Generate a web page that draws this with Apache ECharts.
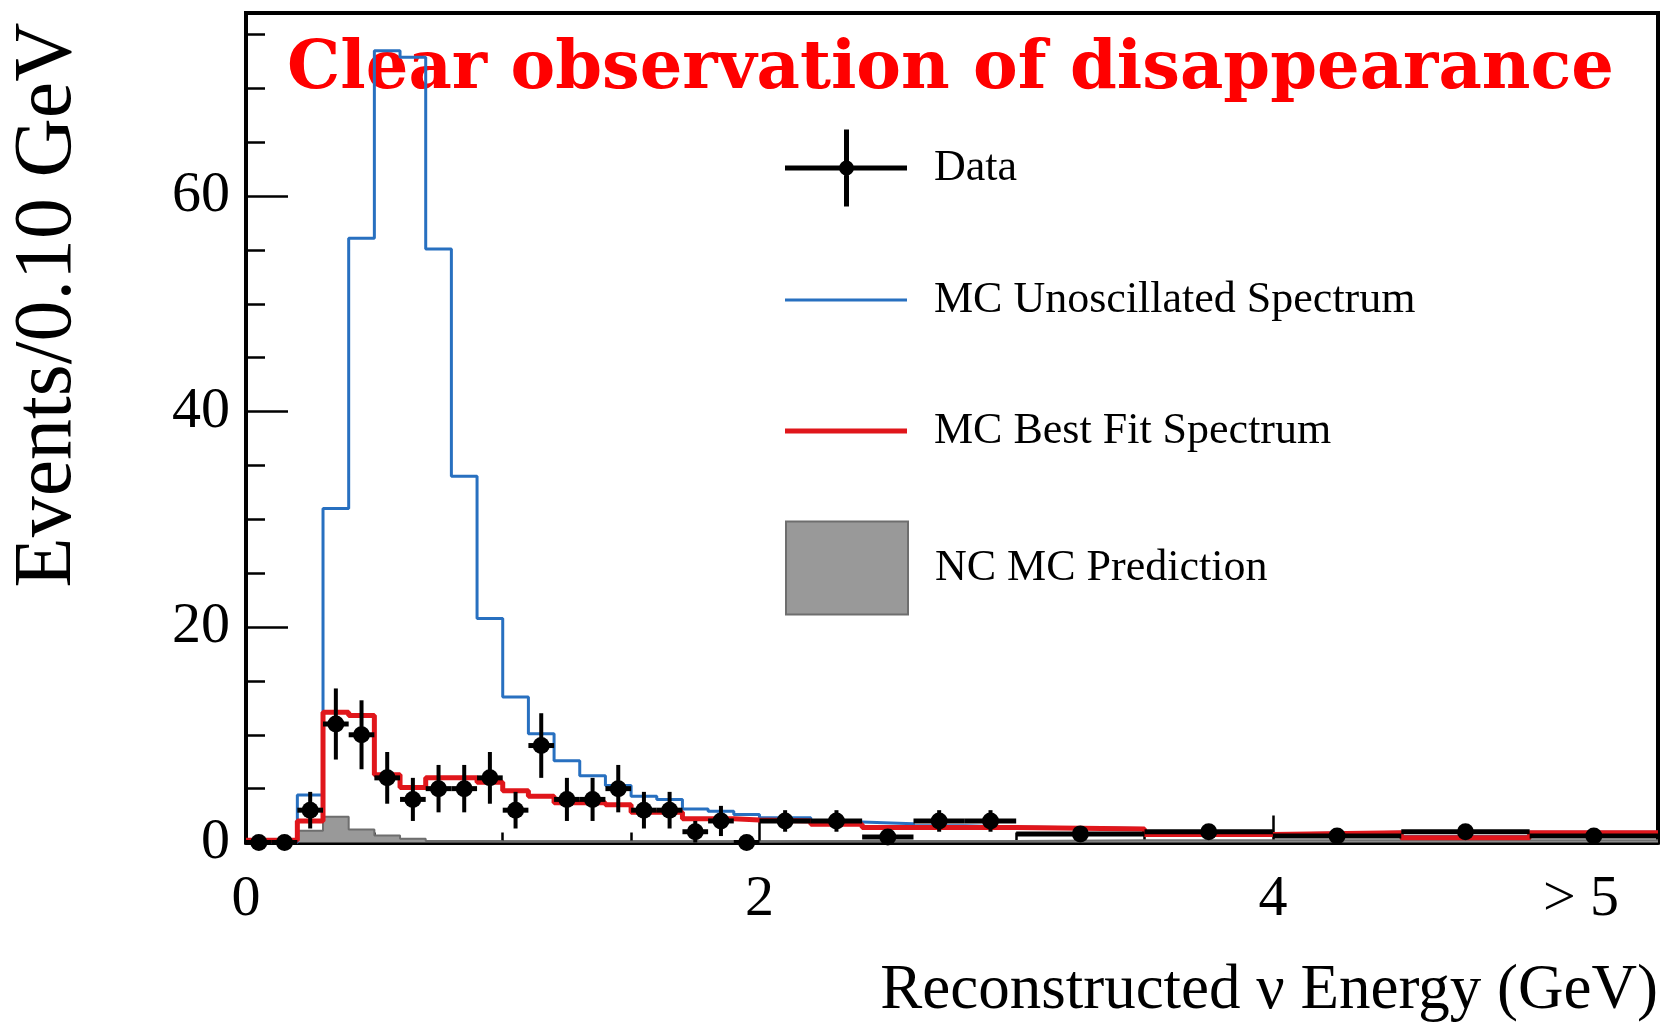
<!DOCTYPE html>
<html>
<head>
<meta charset="utf-8">
<script src="https://cdn.jsdelivr.net/npm/echarts@6/dist/echarts.min.js"></script>
<style>
  html, body { margin: 0; padding: 0; background: #fff; }
  #chart { width: 1664px; height: 1027px; }
</style>
</head>
<body>
<div id="chart"></div>
<script>
// bin edges (GeV) - 0.1 wide up to 2, then 0.2, then 0.5
const binEdges = [0, 0.1, 0.2, 0.3, 0.4, 0.5, 0.6, 0.7, 0.8, 0.9, 1.0, 1.1, 1.2, 1.3, 1.4, 1.5, 1.6, 1.7, 1.8, 1.9, 2.0,
                  2.2, 2.4, 2.6, 2.8, 3.0, 3.5, 4.0, 4.5, 5.0, 5.5];

// MC unoscillated (blue)
const unoscVals = [0, 0, 4.4, 31.0, 56.1, 73.5, 72.9, 55.1, 34.0, 20.8, 13.5, 10.1, 7.6, 6.2, 5.3, 4.3, 4.0, 3.1, 2.9, 2.6,
                   2.3, 1.9, 1.75, 1.55, 1.45, 1.3, 0.8, 0.95, 0.55, 0.95];
// MC best fit (red)
const bestFitVals = [0.2, 0.2, 2.0, 12.1, 11.8, 6.3, 5.1, 6.0, 6.0, 5.6, 4.8, 4.3, 3.7, 3.7, 3.5, 2.8, 2.8, 2.2, 2.2, 2.1,
                     2.0, 1.7, 1.4, 1.4, 1.4, 1.25, 0.75, 0.9, 0.45, 0.9];
// NC MC prediction (grey)
const ncVals = [0, 0, 1.1, 2.4, 1.2, 0.65, 0.35, 0.15, 0.15, 0.12, 0.1, 0.1, 0.1, 0.1, 0.1, 0.1, 0.1, 0.1, 0.1, 0.1,
                0.15, 0.15, 0.15, 0.15, 0.15, 0.2, 0.2, 0.2, 0.2, 0.2];

// data points
const dataCenters = [0.05, 0.15, 0.25, 0.35, 0.45, 0.55, 0.65, 0.75, 0.85, 0.95, 1.05, 1.15, 1.25, 1.35, 1.45,
                     1.55, 1.65, 1.75, 1.85, 1.95, 2.1, 2.3, 2.5, 2.7, 2.9, 3.25, 3.75, 4.25, 4.75, 5.25];
const dataVals = [0, 0, 3, 11, 10, 6, 4, 5, 5, 6, 3, 9, 4, 4, 5, 3, 3, 1, 2, 0,
                  2.0, 2.0, 0.5, 2.0, 2.0, 0.8, 1.0, 0.6, 1.0, 0.6];
const dataErr = [0, 0, 1.7, 3.3, 3.2, 2.4, 2.0, 2.2, 2.2, 2.4, 1.7, 3.0, 2.0, 2.0, 2.2, 1.7, 1.7, 1.0, 1.4, 0,
                 1.0, 1.0, 0.5, 1.0, 1.0, 0.4, 0.45, 0.35, 0.45, 0.35];

const yLabelValues = [0, 20, 40, 60];
const xLabelValues = [0, 2, 4, 5.2];

const serif = '"Liberation Serif", "Times New Roman", serif';

// histogram -> step polyline
function stepPoints(edges, vals) {
    const pts = [];
    vals.forEach((v, i) => {
        pts.push([edges[i], v], [edges[i + 1], v]);
    });
    return pts;
}

const pointData = dataCenters.map((c, i) => [c, dataVals[i], binEdges[i], binEdges[i + 1], dataErr[i]]);

// one legend box per entry so each row sits where it does in the plot
function legendBox(top, entry) {
    return {
        orient: 'vertical',
        left: 785,
        top: top,
        padding: 0,
        itemWidth: 122,
        itemHeight: 93,
        selectedMode: false,
        textStyle: { fontFamily: serif, fontSize: 44, color: '#000', padding: [0, 0, 0, 22] },
        data: [entry]
    };
}

const chart = echarts.init(document.getElementById('chart'));

const axisCommon = { min: 0, splitLine: { show: false } };

const option = {
    animation: false,
    backgroundColor: '#fff',
    title: {
        text: 'Clear observation of disappearance',
        left: 287,
        top: 37,
        padding: 0,
        z: 0,
        textStyle: { fontFamily: '"DejaVu Serif", serif', fontWeight: 'bold', fontSize: 67, color: '#ff0000' }
    },
    legend: [
        legendBox(129.5, { name: 'Data', icon: 'path://M0,36h122v5h-122z M59,0h5v77h-5z M54,38.5a7.5,7.5 0 1,1 15,0a7.5,7.5 0 1,1 -15,0',
                           itemStyle: { color: '#000', borderWidth: 0 } }),
        legendBox(278, { name: 'MC Unoscillated Spectrum', icon: 'path://M0,0h122v3h-122z', itemStyle: { color: '#2870c0', borderWidth: 0 } }),
        legendBox(409, { name: 'MC Best Fit Spectrum', icon: 'path://M0,0h122v5h-122z', itemStyle: { color: '#e0161b', borderWidth: 0 } }),
        legendBox(520.5, { name: 'NC MC Prediction', icon: 'rect', itemStyle: { color: '#999999', borderColor: '#6e6e6e', borderWidth: 2 } })
    ],
    grid: {
        left: 246, right: 6, top: 13, bottom: 184.5,
        show: true, borderColor: '#000', borderWidth: 4, backgroundColor: 'transparent'
    },
    xAxis: [
        Object.assign({}, axisCommon, {
            type: 'value', max: 5.5, interval: 0.5,
            name: 'Reconstructed ν Energy (GeV)',
            nameLocation: 'end', nameGap: 0,
            nameTextStyle: { fontFamily: serif, fontSize: 63, color: '#000', align: 'right', verticalAlign: 'top', padding: [117, 0, 0, 0] },
            axisLine: { show: true, lineStyle: { color: '#000', width: 4 } },
            axisTick: { inside: true, length: 10, lineStyle: { color: '#000', width: 2.5 } },
            axisLabel: {
                customValues: xLabelValues,
                formatter: v => (v === 5.2 ? '> 5' : String(v)),
                fontFamily: serif, fontSize: 58, color: '#000', margin: 28
            }
        }),
        Object.assign({}, axisCommon, {
            type: 'value', max: 5.5, interval: 2, position: 'bottom',
            axisLine: { show: false },
            axisTick: { inside: true, length: 27, lineStyle: { color: '#000', width: 2.5 } },
            axisLabel: { show: false }
        })
    ],
    yAxis: [
        Object.assign({}, axisCommon, {
            type: 'value', max: 77, interval: 5,
            axisLine: { show: true, lineStyle: { color: '#000', width: 4 } },
            axisTick: { inside: true, length: 19, lineStyle: { color: '#000', width: 2.5 } },
            axisLabel: { customValues: yLabelValues, fontFamily: serif, fontSize: 58, color: '#000', margin: 16 }
        }),
        Object.assign({}, axisCommon, {
            type: 'value', max: 77, interval: 20, position: 'left',
            axisLine: { show: false },
            axisTick: { inside: true, length: 42, lineStyle: { color: '#000', width: 2.5 } },
            axisLabel: { show: false }
        })
    ],
    graphic: [{
        type: 'text',
        x: 48, y: 305,
        rotation: Math.PI / 2,
        style: { text: 'Events/0.10 GeV', fontFamily: serif, fontSize: 82, fill: '#000', align: 'center', verticalAlign: 'middle' }
    }],
    series: [
        {
            name: 'NC MC Prediction', type: 'line', z: 1,
            data: stepPoints(binEdges, ncVals),
            symbol: 'none',
            lineStyle: { color: '#6e6e6e', width: 2 },
            itemStyle: { color: '#999999' },
            areaStyle: { color: '#999999', opacity: 1 }
        },
        {
            name: 'MC Unoscillated Spectrum', type: 'line', z: 2,
            data: stepPoints(binEdges, unoscVals),
            symbol: 'none',
            lineStyle: { color: '#2870c0', width: 3 },
            itemStyle: { color: '#2870c0' }
        },
        {
            name: 'MC Best Fit Spectrum', type: 'line', z: 3,
            data: stepPoints(binEdges, bestFitVals),
            symbol: 'none',
            lineStyle: { color: '#e0161b', width: 5 },
            itemStyle: { color: '#e0161b' }
        },
        {
            name: 'Data', type: 'custom', z: 4,
            itemStyle: { color: '#000' },
            encode: { x: 0, y: 1 },
            data: pointData,
            renderItem: function (params, api) {
                const x = api.value(0), y = api.value(1);
                const lo = api.value(2), hi = api.value(3), e = api.value(4);
                const pL = api.coord([lo, y]);
                const pR = api.coord([hi, y]);
                const pT = api.coord([x, y + e]);
                const pB = api.coord([x, Math.max(y - e, 0)]);
                const c = api.coord([x, y]);
                return {
                    type: 'group',
                    children: [
                        { type: 'line', shape: { x1: pL[0], y1: pL[1], x2: pR[0], y2: pR[1] }, style: { stroke: '#000', lineWidth: 5 } },
                        { type: 'line', shape: { x1: pT[0], y1: pT[1], x2: pB[0], y2: pB[1] }, style: { stroke: '#000', lineWidth: 4 } },
                        { type: 'circle', shape: { cx: c[0], cy: c[1], r: 8.5 }, style: { fill: '#000' } }
                    ]
                };
            }
        }
    ]
};

chart.setOption(option);
</script>
</body>
</html>
